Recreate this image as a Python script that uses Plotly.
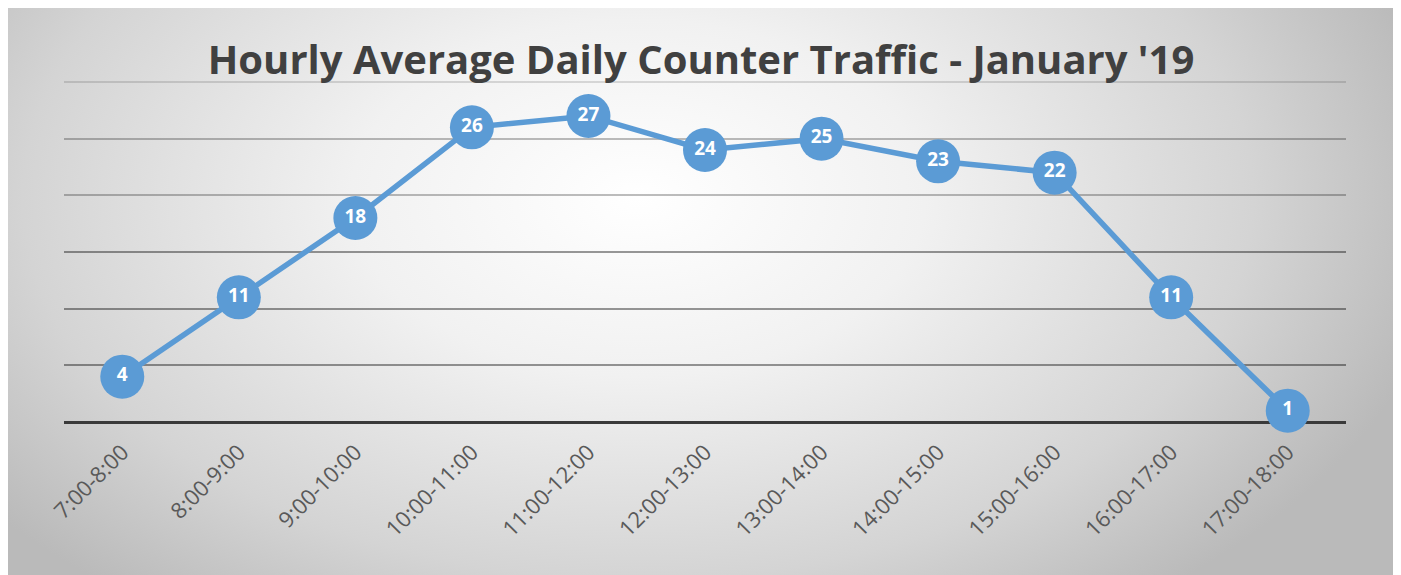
import base64
import plotly.graph_objects as go

categories = ["7:00-8:00", "8:00-9:00", "9:00-10:00", "10:00-11:00", "11:00-12:00",
              "12:00-13:00", "13:00-14:00", "14:00-15:00", "15:00-16:00",
              "16:00-17:00", "17:00-18:00"]
traffic = [4, 11, 18, 26, 27, 24, 25, 23, 22, 11, 1]
y_ticks_low = [0, 5, 10, 15]
y_ticks_mid = [20, 25]
y_ticks_top = [30]
title_text = "Hourly Average Daily Counter Traffic - January '19"

# page has an 8px body margin; figure sized to fit the 1401x575 window
W, H = 1393, 567
ml, mr, mt, mb = 56, 55, 70, 153
pw, ph = W - ml - mr, H - mt - mb
y_range = [0, 30.35]

svg = f'''<svg xmlns="http://www.w3.org/2000/svg" width="{W}" height="{H}" viewBox="0 0 {W} {H}">
<defs><radialGradient id="g" gradientUnits="userSpaceOnUse" cx="630" cy="190" r="820"
 gradientTransform="translate(630 190) scale(1 0.62) translate(-630 -190)">
<stop offset="0" stop-color="#ffffff"/><stop offset="0.35" stop-color="#f1f1f1"/>
<stop offset="0.75" stop-color="#d4d4d4"/><stop offset="1" stop-color="#bababa"/></radialGradient></defs>
<rect x="0" y="0" width="{W}" height="{H}" fill="#ffffff"/>
<rect x="0" y="0" width="1387" height="{H}" fill="url(#g)"/>
</svg>'''
bg_uri = "data:image/svg+xml;base64," + base64.b64encode(svg.encode()).decode()

fig = go.Figure()
# helper (empty) traces so the overlay grid axes are drawn
fig.add_trace(go.Scatter(x=[], y=[], yaxis="y2", showlegend=False, hoverinfo="skip"))
fig.add_trace(go.Scatter(x=[], y=[], yaxis="y3", showlegend=False, hoverinfo="skip"))
fig.add_trace(go.Scatter(
    x=categories, y=traffic,
    mode="lines+markers+text",
    line=dict(color="#5b9bd5", width=5.5),
    marker=dict(size=44, color="#5b9bd5", line=dict(width=0)),
    text=[str(v) for v in traffic],
    textposition="middle center",
    textfont=dict(family="Open Sans", size=19, color="#ffffff", weight="bold"),
    cliponaxis=False,
    hoverinfo="skip",
))

common_y = dict(range=y_range, showticklabels=False, showline=False, ticks="",
                showgrid=True, gridwidth=2)

fig.update_layout(
    width=W, height=H,
    margin=dict(l=ml, r=mr, t=mt, b=mb, pad=0),
    paper_bgcolor="#ffffff",
    plot_bgcolor="rgba(0,0,0,0)",
    showlegend=False,
    title=dict(text=title_text, x=693 / W, xref="container", xanchor="center",
               y=1 - 52 / H, yref="container", yanchor="middle",
               font=dict(family="Open Sans", size=40, color="#404040", weight="bold")),
    images=[dict(source=bg_uri, xref="paper", yref="paper",
                 x=-ml / pw, y=1 + mt / ph, sizex=W / pw, sizey=H / ph,
                 xanchor="left", yanchor="top", sizing="stretch", layer="below")],
    xaxis=dict(type="category", categoryarray=categories, range=[-0.5, len(categories) - 0.5],
               showgrid=False, zeroline=False, showline=False,
               tickangle=-45, ticks="", ticklabelstandoff=12,
               tickfont=dict(family="Open Sans", size=22, color="#595959")),
    yaxis=dict(**common_y, tickvals=y_ticks_low, gridcolor="rgba(0,0,0,0.40)",
               zeroline=True, zerolinecolor="#3a3a3a", zerolinewidth=3),
    yaxis2=dict(**common_y, tickvals=y_ticks_mid, gridcolor="rgba(0,0,0,0.26)",
                zeroline=False, overlaying="y", side="left"),
    yaxis3=dict(**common_y, tickvals=y_ticks_top, gridcolor="rgba(0,0,0,0.13)",
                zeroline=False, overlaying="y", side="left"),
)

fig.write_html("out.html")
